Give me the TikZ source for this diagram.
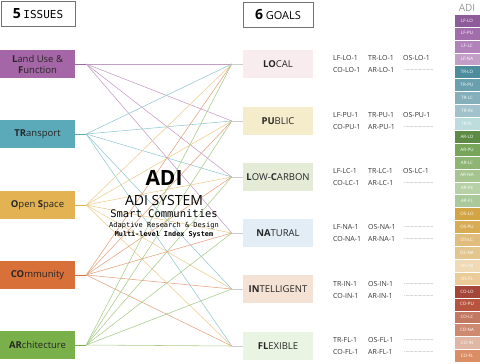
\documentclass[tikz,border=0pt]{standalone}
\usepackage{fontspec}
\setmainfont{Open Sans}
\setsansfont{Open Sans}
\setmonofont{DejaVu Sans Mono}
\usepackage{tikz}
\usetikzlibrary{positioning}

% issue colours
\definecolor{lfcol}{HTML}{A466A6}
\definecolor{trcol}{HTML}{5BAAB9}
\definecolor{oscol}{HTML}{E2B253}
\definecolor{cocol}{HTML}{D8703A}
\definecolor{arcol}{HTML}{79B04A}
% goal colours
\definecolor{locol}{HTML}{F8ECEF}
\definecolor{pucol}{HTML}{F5ECCB}
\definecolor{lccol}{HTML}{E4EBD7}
\definecolor{nacol}{HTML}{E2EDF6}
\definecolor{incol}{HTML}{F4E3D4}
\definecolor{flcol}{HTML}{EAF4E2}
% index legend colours
\definecolor{cLFLO}{HTML}{8F5C9A}
\definecolor{cLFPU}{HTML}{A26DAB}
\definecolor{cLFLC}{HTML}{B283BB}
\definecolor{cLFNA}{HTML}{C39FC8}
\definecolor{cTRLO}{HTML}{4C8C9C}
\definecolor{cTRPU}{HTML}{6A9FAD}
\definecolor{cTRLC}{HTML}{84AFBB}
\definecolor{cTRIN}{HTML}{A2C2CB}
\definecolor{cTRFL}{HTML}{BCDCDD}
\definecolor{cARLO}{HTML}{5D8A44}
\definecolor{cARPU}{HTML}{77A65A}
\definecolor{cARLC}{HTML}{8EB574}
\definecolor{cARNA}{HTML}{A5C48F}
\definecolor{cARIN}{HTML}{B7D1A6}
\definecolor{cARFL}{HTML}{A9C99A}
\definecolor{cOSLO}{HTML}{D2A443}
\definecolor{cOSPU}{HTML}{D8AC55}
\definecolor{cOSLC}{HTML}{E0BD7C}
\definecolor{cOSNA}{HTML}{E2C68E}
\definecolor{cOSIN}{HTML}{EFDAB5}
\definecolor{cOSFL}{HTML}{EBCB98}
\definecolor{cCOLO}{HTML}{A4453A}
\definecolor{cCOPU}{HTML}{B65440}
\definecolor{cCOLC}{HTML}{C37862}
\definecolor{cCONA}{HTML}{CE8A70}
\definecolor{cCOIN}{HTML}{E0B6A4}
\definecolor{cCOFL}{HTML}{DB8E66}

\begin{document}
\begin{tikzpicture}[
  x=1pt, y=-1pt,
  font=\sffamily,
  issue/.style={minimum width=75pt, minimum height=28pt, inner sep=0pt,
    align=center, text=black!85, font=\sffamily\fontsize{9.5}{11}\selectfont},
  goal/.style={minimum width=70pt, minimum height=28pt, inner sep=0pt,
    text=black!85, font=\sffamily\fontsize{9.5}{11}\selectfont},
  head/.style={draw=black!55, line width=0.8pt, fill=white,
    minimum height=25pt, inner sep=0pt},
  code/.style={anchor=west, inner sep=0pt, text=black!80,
    font=\sffamily\fontsize{7}{8}\selectfont},
  dots/.style={anchor=west, inner sep=0pt, text=black!60,
    font=\sffamily\fontsize{5}{6}\selectfont},
  cell/.style={draw=white, line width=0.4pt, minimum width=26pt,
    minimum height=12.9pt, inner sep=0pt, text=white,
    font=\sffamily\fontsize{4.5}{5}\selectfont},
  link/.style={line width=0.55pt},
]
  \useasboundingbox (0,0) rectangle (480,364);

  % headers
  \node[head, minimum width=74pt] (hIssues) at (38,14)
    {{\bfseries\fontsize{14}{16}\selectfont 5} {\ttfamily\fontsize{11}{13}\selectfont ISSUES}};
  \node[head, minimum width=70pt] (hGoals) at (278,15)
    {{\bfseries\fontsize{14}{16}\selectfont 6} {\fontsize{11}{13}\selectfont GOALS}};
  \node[text=black!40, font=\sffamily\fontsize{10}{12}\selectfont] (hAdi) at (467,8) {ADI};

  % issues
  \node[issue, fill=lfcol] (iLF) at (37.5,64)  {\textbf{L}and Use \&\\\textbf{F}unction};
  \node[issue, fill=trcol] (iTR) at (37.5,134) {\textbf{TR}ansport};
  \node[issue, fill=oscol] (iOS) at (37.5,205) {\textbf{O}pen \textbf{S}pace};
  \node[issue, fill=cocol] (iCO) at (37.5,275) {\textbf{CO}mmunity};
  \node[issue, fill=arcol] (iAR) at (37.5,345) {\textbf{AR}chitecture};

  % goals
  \node[goal, fill=locol] (gLO) at (278,64)  {\textbf{LO}CAL};
  \node[goal, fill=pucol] (gPU) at (278,121) {\textbf{PU}BLIC};
  \node[goal, fill=lccol] (gLC) at (278,177) {\textbf{L}OW-\textbf{C}ARBON};
  \node[goal, fill=nacol] (gNA) at (278,233) {\textbf{NA}TURAL};
  \node[goal, fill=incol] (gIN) at (278,289) {\textbf{IN}TELLIGENT};
  \node[goal, fill=flcol] (gFL) at (278,346) {\textbf{FL}EXIBLE};

  % fan points
  \foreach \x in {LF, TR, OS, CO, AR} \coordinate[right=11pt of i\x] (f\x);
  \foreach \x in {LO, PU, LC, NA, IN, FL} \coordinate[left=11pt of g\x] (h\x);

  % links
  \foreach \g in {LO, PU, LC, NA} \draw[link, lfcol!65] (fLF) -- (h\g);
  \foreach \g in {LO, PU, LC, IN, FL} \draw[link, trcol!65] (fTR) -- (h\g);
  \foreach \g in {LO, PU, LC, NA, IN, FL} \draw[link, oscol!65] (fOS) -- (h\g);
  \foreach \g in {LO, PU, LC, NA, IN, FL} \draw[link, cocol!65] (fCO) -- (h\g);
  \foreach \g in {LO, PU, LC, NA, IN, FL} \draw[link, arcol!65] (fAR) -- (h\g);
  \draw[link, lfcol] (iLF) -- (fLF);
  \draw[link, trcol] (iTR) -- (fTR);
  \draw[link, oscol] (iOS) -- (fOS);
  \draw[link, cocol] (iCO) -- (fCO);
  \draw[link, arcol] (iAR) -- (fAR);
  \foreach \x in {LO, PU, LC, NA, IN, FL} \draw[link, black!20] (h\x) -- (g\x);

  % centre title
  \node[anchor=base, inner sep=0pt, font=\sffamily\bfseries\fontsize{21}{24}\selectfont] (adi) at (164,185) {ADI};
  \node[anchor=base, inner sep=0pt, font=\sffamily\fontsize{14}{16}\selectfont] (adiSys) at (164,205) {ADI SYSTEM};
  \node[anchor=base, inner sep=0pt, font=\ttfamily\fontsize{10.5}{12}\selectfont] (smart) at (164,217) {Smart Communities};
  \node[anchor=base, inner sep=0pt, font=\ttfamily\fontsize{7}{8}\selectfont] (adapt) at (164,227) {Adaptive Research \& Design};
  \node[anchor=base, inner sep=0pt, font=\ttfamily\bfseries\fontsize{6.8}{8}\selectfont] (multi) at (164,236) {Multi-level Index System};

  % index codes
  \foreach \n/\y/\a/\b/\c in {LO/58/LF-LO-1/TR-LO-1/OS-LO-1, PU/115/LF-PU-1/TR-PU-1/OS-PU-1,
                              LC/171/LF-LC-1/TR-LC-1/OS-LC-1}
  {
    \node[code] (\n a) at (333,\y) {\a};
    \node[code] (\n b) at (368,\y) {\b};
    \node[code] (\n c) at (403,\y) {\c};
  }
  \foreach \n/\y/\a/\b in {NA/227/LF-NA-1/OS-NA-1, IN/284/TR-IN-1/OS-IN-1, FL/340/TR-FL-1/OS-FL-1}
  {
    \node[code] (\n a) at (333,\y) {\a};
    \node[code] (\n b) at (368,\y) {\b};
    \node[dots] (\n c) at (404,\y) {......................};
  }
  \foreach \n/\y in {LO/70, PU/127, LC/183, NA/239, IN/296, FL/352}
  {
    \node[code] (\n d) at (333,\y) {CO-\n-1};
    \node[code] (\n e) at (368,\y) {AR-\n-1};
    \node[dots] (\n f) at (404,\y) {......................};
  }

  % index legend
  \foreach \a/\b [count=\i from 0] in {LF/LO, LF/PU, LF/LC, LF/NA,
      TR/LO, TR/PU, TR/LC, TR/IN, TR/FL,
      AR/LO, AR/PU, AR/LC, AR/NA, AR/IN, AR/FL,
      OS/LO, OS/PU, OS/LC, OS/NA, OS/IN, OS/FL,
      CO/LO, CO/PU, CO/LC, CO/NA, CO/IN, CO/FL}
    \node[cell, fill=c\a\b] (l\a\b) at (467,{20.5+12.9*\i}) {\a-\b};
\end{tikzpicture}
\end{document}
